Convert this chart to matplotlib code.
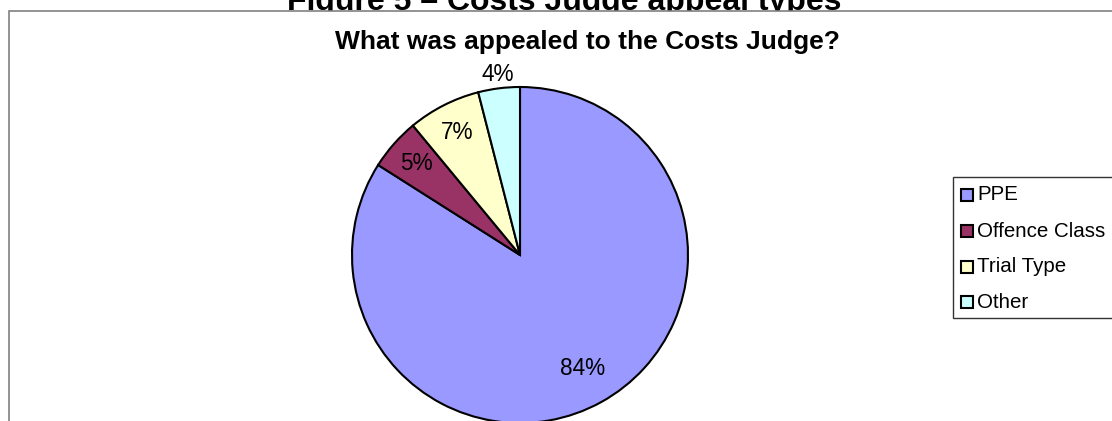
import numpy as np
import matplotlib
matplotlib.use("Agg")
import matplotlib.pyplot as plt
from matplotlib.patches import Rectangle

plt.rcParams['font.family'] = ['Liberation Sans', 'DejaVu Sans']

# data
labels = ["PPE", "Offence Class", "Trial Type", "Other"]
values = [84, 5, 7, 4]
colors = ["#9999FF", "#993366", "#FFFFCC", "#CCFFFF"]
fig_title = "Figure 5 \u2013 Costs Judge appeal types"
chart_title = "What was appealed to the Costs Judge?"

W, H = 1112, 421
fig = plt.figure(figsize=(W / 100, H / 100), dpi=100)

def fx(x):
    return x / W

def fy(y):
    return 1 - y / H

# page title sits behind the chart area, so its descenders get covered
fig.text(fx(564), fy(10), fig_title, ha="center", va="baseline",
         fontsize=23, fontweight="bold", zorder=0)

# chart area (white, grey border, runs off the right and bottom edges)
fig.patches.append(Rectangle((fx(8.5), fy(440)), fx(1200), fy(11) - fy(440),
                             transform=fig.transFigure, facecolor="white",
                             edgecolor="#808080", linewidth=1.2, zorder=1))

fig.text(fx(587), fy(48.5), chart_title, ha="center", va="baseline",
         fontsize=19, fontweight="bold", zorder=3)

# pie
cx, cy, r = 520, 255, 168
ax = fig.add_axes([fx(cx - r), fy(cy + r), 2 * r / W, 2 * r / H])
ax.set_zorder(2)
wedges, texts, autotexts = ax.pie(values, colors=colors, startangle=90, counterclock=False,
                                  autopct="%.0f%%", pctdistance=0.82,
                                  wedgeprops=dict(edgecolor="black", linewidth=1.5),
                                  textprops=dict(fontsize=16.3, color="black"))
ax.set_xlim(-1, 1)
ax.set_ylim(-1, 1)
dists = [0.77, 0.82, 0.82, 1.08]
for w, t, d in zip(wedges, autotexts, dists):
    th = np.deg2rad((w.theta1 + w.theta2) / 2)
    t.set_position((d * np.cos(th), d * np.sin(th)))
    t.set_clip_on(False)

# legend
fig.patches.append(Rectangle((fx(953), fy(318)), fx(200), fy(177) - fy(318),
                             transform=fig.transFigure, facecolor="white",
                             edgecolor="#333333", linewidth=1.0, zorder=3))
ys = [195, 231, 267, 302]
for lab, col, y in zip(labels, colors, ys):
    fig.patches.append(Rectangle((fx(961), fy(y + 6)), fx(12), fy(y - 6) - fy(y + 6),
                                 transform=fig.transFigure, facecolor=col,
                                 edgecolor="black", linewidth=1.5, zorder=4))
    fig.text(fx(977), fy(y), lab, ha="left", va="center", fontsize=14.8, zorder=4)

fig.savefig("out.png", dpi=100)
